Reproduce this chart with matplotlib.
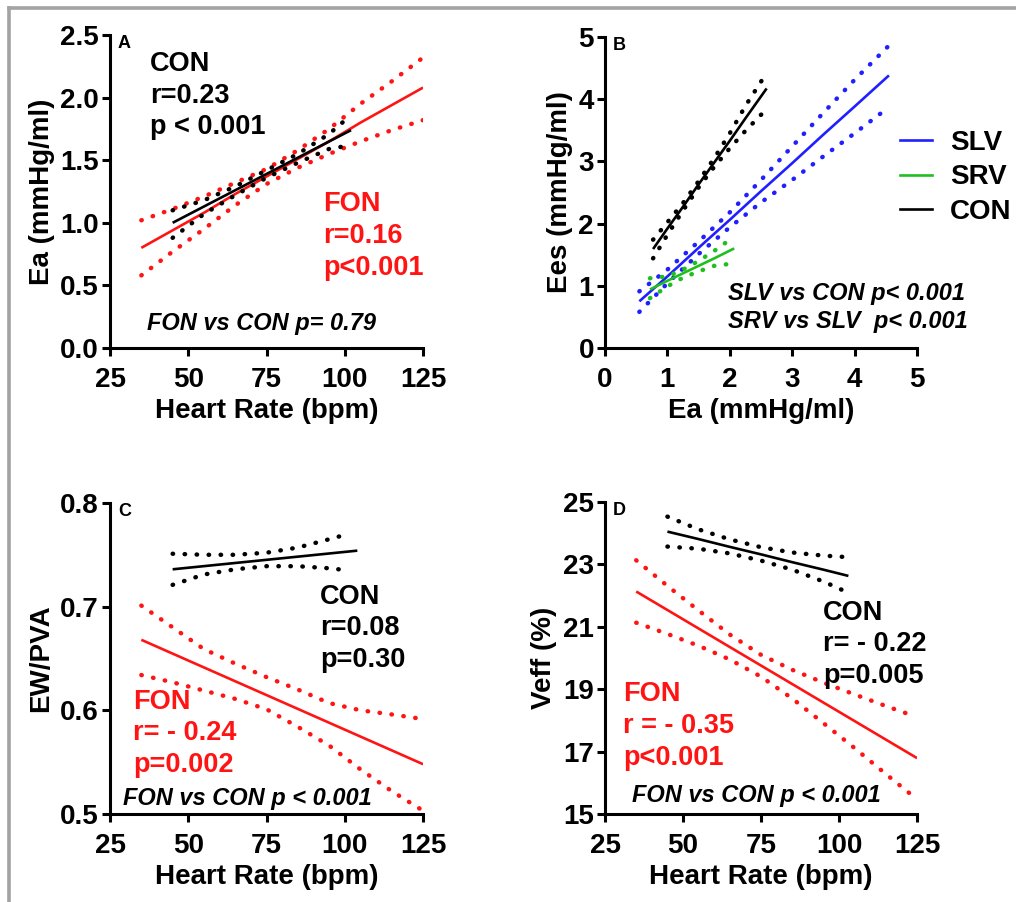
import numpy as np
import matplotlib
matplotlib.use("Agg")
import matplotlib.pyplot as plt
from matplotlib.lines import Line2D

plt.rcParams['font.family'] = ['Liberation Sans', 'DejaVu Sans']
plt.rcParams['font.weight'] = 'bold'

RED = '#ff1414'
BLUE = '#1f1fff'
GREEN = '#1fbf1f'
BLACK = '#000000'

# ---- panel A : Ea vs heart rate
a_fon_x = [35, 45, 55, 65, 75, 85, 95, 105, 115, 125]
a_fon_y = [0.80, 0.94, 1.08, 1.23, 1.37, 1.51, 1.65, 1.80, 1.94, 2.08]
a_fon_hi = [1.02, 1.11, 1.21, 1.32, 1.43, 1.58, 1.75, 1.95, 2.13, 2.32]
a_fon_lo = [0.58, 0.77, 0.95, 1.14, 1.31, 1.44, 1.55, 1.65, 1.74, 1.82]
a_con_x = [45, 55, 65, 75, 85, 95, 102]
a_con_y = [1.00, 1.13, 1.26, 1.39, 1.52, 1.65, 1.74]
a_con_hi = [1.10, 1.18, 1.29, 1.42, 1.55, 1.71, 1.86]
a_con_lo = [0.88, 1.07, 1.22, 1.36, 1.48, 1.59, 1.62]

# ---- panel B : Ees vs Ea
b_slv_x = [0.55, 1.0, 1.5, 2.0, 2.5, 3.0, 3.5, 4.0, 4.55]
b_slv_y = [0.75, 1.15, 1.61, 2.06, 2.52, 2.97, 3.43, 3.88, 4.38]
b_slv_hi = [0.91, 1.26, 1.71, 2.18, 2.70, 3.24, 3.78, 4.31, 4.86]
b_slv_lo = [0.58, 1.04, 1.51, 1.94, 2.34, 2.70, 3.08, 3.45, 3.87]
b_srv_x = [0.72, 1.0, 1.25, 1.5, 1.75, 2.07]
b_srv_y = [0.94, 1.08, 1.20, 1.32, 1.44, 1.60]
b_srv_hi = [1.12, 1.15, 1.26, 1.40, 1.56, 1.79]
b_srv_lo = [0.80, 0.99, 1.13, 1.23, 1.32, 1.36]
b_con_x = [0.77, 1.0, 1.25, 1.5, 1.75, 2.0, 2.25, 2.59]
b_con_y = [1.59, 1.92, 2.27, 2.63, 2.98, 3.33, 3.69, 4.17]
b_con_hi = [1.74, 2.02, 2.33, 2.68, 3.05, 3.45, 3.89, 4.42]
b_con_lo = [1.44, 1.82, 2.21, 2.58, 2.91, 3.21, 3.49, 3.84]

# ---- panel C : EW/PVA vs heart rate
c_fon_x = [35, 45, 55, 65, 75, 85, 95, 105, 115, 124]
c_fon_y = [0.668, 0.655, 0.641, 0.628, 0.615, 0.601, 0.588, 0.575, 0.561, 0.549]
c_fon_hi = [0.701, 0.680, 0.659, 0.645, 0.632, 0.620, 0.607, 0.600, 0.596, 0.592]
c_fon_lo = [0.634, 0.627, 0.619, 0.611, 0.601, 0.584, 0.566, 0.543, 0.522, 0.505]
c_con_x = [45, 55, 65, 75, 85, 95, 101]
c_con_y = [0.736, 0.739, 0.742, 0.745, 0.748, 0.751, 0.753]
c_con_hi = [0.751, 0.750, 0.750, 0.752, 0.757, 0.765, 0.770]
c_con_lo = [0.721, 0.731, 0.736, 0.739, 0.739, 0.737, 0.735]
c_con_line_x = [45, 104]
c_con_line_y = [0.736, 0.754]

# ---- panel D : Veff vs heart rate
d_fon_x = [35, 45, 55, 65, 75, 85, 95, 105, 115, 124]
d_fon_y = [22.13, 21.54, 20.95, 20.35, 19.75, 19.16, 18.56, 17.97, 17.37, 16.84]
d_fon_hi = [23.13, 22.31, 21.52, 20.75, 20.10, 19.62, 19.21, 18.83, 18.46, 18.14]
d_fon_lo = [21.13, 20.77, 20.39, 19.95, 19.40, 18.70, 17.91, 17.11, 16.28, 15.55]
d_con_x = [45, 55, 65, 75, 85, 95, 103]
d_con_y = [24.05, 23.81, 23.56, 23.32, 23.07, 22.83, 22.63]
d_con_hi = [24.53, 24.12, 23.80, 23.55, 23.38, 23.28, 23.23]
d_con_lo = [23.57, 23.50, 23.35, 23.12, 22.83, 22.45, 22.09]

DOT = dict(ls=(0, (0.1, 2.6)), lw=3.2, dash_capstyle='round')
BIG = 19.5      # stats text
SMALL = 17      # italic comparison text
LS = 1.28


def fit(ax, x, y, hi, lo, color, lx=None, ly=None):
    if lx is None:
        ax.plot(x, y, color=color, lw=1.9, solid_capstyle='butt')
    else:
        ax.plot(lx, ly, color=color, lw=1.9, solid_capstyle='butt')
    ax.plot(x, hi, color=color, **DOT)
    ax.plot(x, lo, color=color, **DOT)


def style(ax, xlim, ylim, xt, yt, xlab, ylab, letter, yfmt):
    ax.set_xlim(*xlim)
    ax.set_ylim(*ylim)
    ax.set_xticks(xt)
    ax.set_yticks(yt)
    ax.set_yticklabels([yfmt.format(v) for v in yt])
    for s in ['top', 'right']:
        ax.spines[s].set_visible(False)
    for s in ['left', 'bottom']:
        ax.spines[s].set_linewidth(2.2)
    ax.tick_params(direction='out', length=6, width=2.2, labelsize=20)
    ax.tick_params(axis='x', pad=8)
    ax.tick_params(axis='y', pad=2)
    for lab in ax.get_xticklabels() + ax.get_yticklabels():
        lab.set_fontweight('bold')
    ax.set_xlabel(xlab, fontsize=20, fontweight='bold', labelpad=3)
    ax.set_ylabel(ylab, fontsize=20, fontweight='bold', labelpad=4)
    ax.text(0.025, 1.0, letter, transform=ax.transAxes, fontsize=13,
            fontweight='bold', va='top', ha='left')


fig = plt.figure(figsize=(10.16, 9.02), dpi=100)

# gray frame
fig.add_artist(Line2D([0.0085, 0.0085], [0, 0.991], transform=fig.transFigure,
                      color='#a3a3a3', lw=2.6))
fig.add_artist(Line2D([0.0085, 1.0], [0.991, 0.991], transform=fig.transFigure,
                      color='#a3a3a3', lw=2.6))

axA = fig.add_axes([0.1083, 0.6142, 0.3081, 0.347])
axB = fig.add_axes([0.5955, 0.6142, 0.3071, 0.345])
axC = fig.add_axes([0.1083, 0.0976, 0.3081, 0.3448])
axD = fig.add_axes([0.5955, 0.0976, 0.3071, 0.3459])

# A
fit(axA, a_fon_x, a_fon_y, a_fon_hi, a_fon_lo, RED)
fit(axA, a_con_x, a_con_y, a_con_hi, a_con_lo, BLACK)
style(axA, (25, 125), (0, 2.5), [25, 50, 75, 100, 125], [0, 0.5, 1.0, 1.5, 2.0, 2.5],
      'Heart Rate (bpm)', 'Ea (mmHg/ml)', 'A', '{:.1f}')
axA.text(37.8, 2.37, 'CON\nr=0.23\np < 0.001', fontsize=BIG, fontweight='bold',
         va='top', ha='left', linespacing=LS)
axA.text(93.1, 1.25, 'FON\nr=0.16\np<0.001', fontsize=BIG, fontweight='bold',
         va='top', ha='left', color=RED, linespacing=LS)
axA.text(36.8, 0.145, 'FON vs CON p= 0.79', fontsize=SMALL, fontweight='bold',
         style='italic', va='baseline', ha='left')

# B
fit(axB, b_slv_x, b_slv_y, b_slv_hi, b_slv_lo, BLUE)
fit(axB, b_srv_x, b_srv_y, b_srv_hi, b_srv_lo, GREEN)
fit(axB, b_con_x, b_con_y, b_con_hi, b_con_lo, BLACK)
style(axB, (0, 5), (0, 5), [0, 1, 2, 3, 4, 5], [0, 1, 2, 3, 4, 5],
      'Ea (mmHg/ml)', 'Ees (mmHg/ml)', 'B', '{:d}')
axB.text(1.97, 0.77, 'SLV vs CON p< 0.001', fontsize=SMALL, fontweight='bold',
         style='italic', va='baseline', ha='left')
axB.text(1.97, 0.32, 'SRV vs SLV  p< 0.001', fontsize=SMALL, fontweight='bold',
         style='italic', va='baseline', ha='left')
handles = [Line2D([], [], color=BLUE, lw=1.9), Line2D([], [], color=GREEN, lw=1.9),
           Line2D([], [], color=BLACK, lw=1.9)]
axB.legend(handles, ['SLV', 'SRV', 'CON'], loc='center left', bbox_to_anchor=(0.945, 0.548),
           frameon=False, handlelength=1.15, handletextpad=0.65, borderpad=0,
           borderaxespad=0, labelspacing=0.3, prop={'weight': 'bold', 'size': 20})

# C
fit(axC, c_fon_x, c_fon_y, c_fon_hi, c_fon_lo, RED, [35, 125], [0.668, 0.548])
fit(axC, c_con_x, c_con_y, c_con_hi, c_con_lo, BLACK, c_con_line_x, c_con_line_y)
style(axC, (25, 125), (0.5, 0.8), [25, 50, 75, 100, 125], [0.5, 0.6, 0.7, 0.8],
      'Heart Rate (bpm)', 'EW/PVA', 'C', '{:.1f}')
axC.text(92.1, 0.722, 'CON\nr=0.08\np=0.30', fontsize=BIG, fontweight='bold',
         va='top', ha='left', linespacing=LS)
axC.text(32.3, 0.621, 'FON\nr= - 0.24\np=0.002', fontsize=BIG, fontweight='bold',
         va='top', ha='left', color=RED, linespacing=LS)
axC.text(29.2, 0.509, 'FON vs CON p < 0.001', fontsize=SMALL, fontweight='bold',
         style='italic', va='baseline', ha='left')

# D
fit(axD, d_fon_x, d_fon_y, d_fon_hi, d_fon_lo, RED, [35, 125], [22.13, 16.79])
fit(axD, d_con_x, d_con_y, d_con_hi, d_con_lo, BLACK)
style(axD, (25, 125), (15, 25), [25, 50, 75, 100, 125], [15, 17, 19, 21, 23, 25],
      'Heart Rate (bpm)', 'Veff (%)', 'D', '{:d}')
axD.text(94.9, 21.87, 'CON\nr= - 0.22\np=0.005', fontsize=BIG, fontweight='bold',
         va='top', ha='left', linespacing=LS)
axD.text(30.8, 19.25, 'FON\nr = - 0.35\np<0.001', fontsize=BIG, fontweight='bold',
         va='top', ha='left', color=RED, linespacing=LS)
axD.text(33.7, 15.38, 'FON vs CON p < 0.001', fontsize=SMALL, fontweight='bold',
         style='italic', va='baseline', ha='left')

fig.savefig('out.png', dpi=100)
